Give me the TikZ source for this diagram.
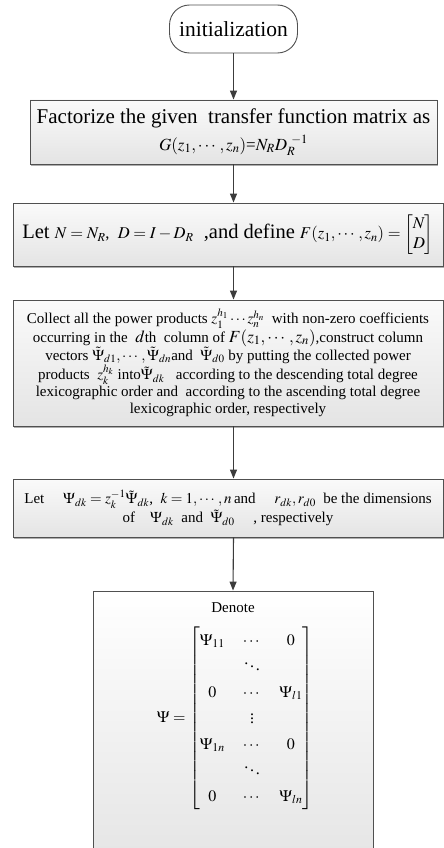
\documentclass[tikz,border=0pt]{standalone}
\usepackage{amsmath}
\usepackage{mathptmx}
\usepackage{fontspec}
\setmainfont{Liberation Serif}
\usetikzlibrary{arrows.meta,shadows}
\definecolor{edgegray}{HTML}{505050}
\definecolor{arrgray}{HTML}{3C3C3C}
\definecolor{fillbot}{HTML}{E4E4E4}
\definecolor{filltop}{HTML}{FAFAFA}
\tikzset{
  procbox/.style={draw=edgegray, line width=0.9pt, top color=filltop, bottom color=fillbot,
    drop shadow={shadow xshift=1.2pt, shadow yshift=-1.8pt, fill=black!45, opacity=0.7},
    inner sep=0pt, align=center},
  flowarrow/.style={draw=arrgray, line width=1.1pt, -{Triangle[length=9pt,width=7pt]}},
  bigtext/.style={font=\fontsize{21}{25}\selectfont},
  smalltext/.style={font=\fontsize{15}{17}\selectfont},
}
\begin{document}
\begin{tikzpicture}[x=1pt,y=-1pt]
\useasboundingbox (0,0) rectangle (444,848);
\clip (0,0) rectangle (444,848);
\fill[white] (0,0) rectangle (444,848);

\node[draw=edgegray, line width=0.9pt, fill=white, rounded corners=20pt,
      minimum width=128pt, minimum height=48pt, inner sep=0pt,
      font=\fontsize{21.5}{24}\selectfont] (init) at (233.5,29) {initialization};

\node[procbox, bigtext, minimum width=407pt, minimum height=64pt] (fact) at (233.5,132)
  {Factorize the given\ \ transfer function matrix as\\[2pt]
   \fontsize{17}{20}\selectfont $G(z_1,\cdots,z_n)$=$N_RD_R^{\;\,-1}$};

\node[procbox, font=\fontsize{20.5}{25}\selectfont, minimum width=430pt, minimum height=63pt] (letn) at (228,234.5)
  {Let {\fontsize{16.5}{20}\selectfont$N=N_R$,~ $D=I-D_R$}\ \ ,and define
   {\fontsize{16.5}{20}\selectfont$F(z_1,\cdots,z_n)=\begin{bmatrix}N\\D\end{bmatrix}$}};

\node[procbox, smalltext, minimum width=430pt, minimum height=126pt] (collect) at (228,363)
  {Collect all the power products $z_1^{h_1}\cdots z_n^{h_n}$\ \ with non-zero coefficients\\
   occurring in the\ \ {\fontsize{17}{17}\selectfont$d$}th\ \ column of {\fontsize{17}{17}\selectfont$F(z_1,\cdots,z_n)$},construct column\\
   vectors\ $\tilde{\Psi}_{d1},\cdots,\tilde{\Psi}_{dn}$and\ \ $\tilde{\Psi}_{d0}$ by putting the collected power\\
   products\ \ $z_k^{h_k}$\ into$\tilde{\Psi}_{dk}$\ \ \ according to the descending total degree\\
   lexicographic order and\ \ according to the ascending total degree\\
   lexicographic order, respectively};

\node[procbox, smalltext, minimum width=430pt, minimum height=58pt] (letpsi) at (228,508)
  {Let\quad\ $\Psi_{dk}=z_k^{-1}\tilde{\Psi}_{dk}$,\ \ $k=1,\cdots,n$\,and\quad\ $r_{dk},r_{d0}$\ \ be the dimensions\\
   of\quad $\Psi_{dk}$\ \ and\ \ $\tilde{\Psi}_{d0}$\quad\ , respectively};

\node[draw=edgegray, line width=0.9pt, top color=white, bottom color=fillbot,
      minimum width=280pt, minimum height=280pt, inner sep=0pt] (denbox) at (233,731) {};

\node[smalltext] (denote) at (233,608) {Denote};
\node[font=\fontsize{16}{20}\selectfont] (psi) at (235,718)
  {$\Psi=\renewcommand{\arraystretch}{1.3}\setlength{\arraycolsep}{9pt}
   \begin{bmatrix}
   \Psi_{11} & \cdots & 0\\
   & \ddots & \\
   0 & \cdots & \Psi_{l1}\\
   & \vdots & \\
   \Psi_{1n} & \cdots & 0\\
   & \ddots & \\
   0 & \cdots & \Psi_{ln}
   \end{bmatrix}$};

\draw[flowarrow] (init.south) -- (fact.north);
\draw[flowarrow] (fact.south) -- (fact.south |- letn.north);
\draw[flowarrow] (fact.south |- letn.south) -- (fact.south |- collect.north);
\draw[flowarrow] (fact.south |- collect.south) -- (fact.south |- letpsi.north);
\draw[flowarrow] (fact.south |- letpsi.south) -- (denbox.north);
\end{tikzpicture}
\end{document}
